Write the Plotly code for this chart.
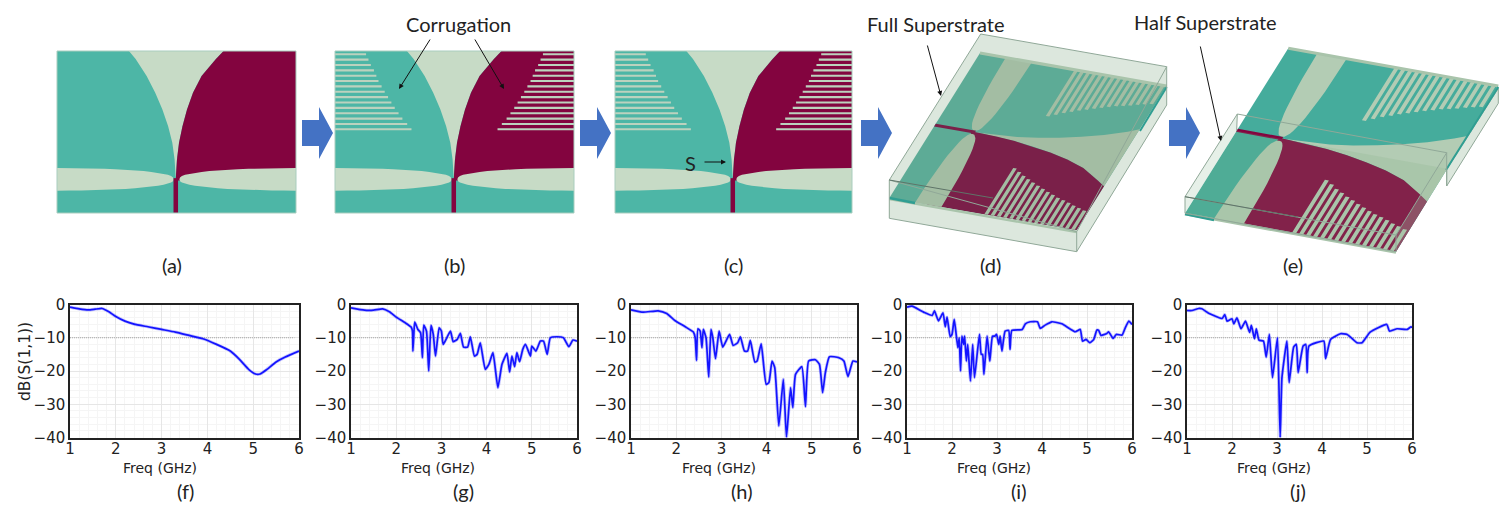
import math
import plotly.graph_objects as go

# ---------- S-parameter curves (f)-(j) ----------
f_freq = [1,1.2,1.4,1.55,1.7,1.85,2,2.2,2.4,2.7,3,3.3,3.6,3.9,4.2,4.5,4.7,4.9,5.05,5.15,5.3,5.5,5.7,6]
f_db = [-0.8,-1.3,-1.6,-1.4,-1.2,-2.2,-3.6,-5,-5.9,-6.7,-7.5,-8.3,-9.3,-10.3,-12,-14,-16.5,-19.5,-20.9,-20.9,-19.5,-17.3,-15.8,-14]

g_freq = [1,1.3,1.5,1.7,1.85,2,2.2,2.33,2.36,2.37,2.39,2.41,2.48,2.54,2.58,2.61,2.67,2.72,2.77,2.82,2.87,2.95,3.0,3.04,3.2,3.26,3.35,3.42,3.49,3.58,3.64,3.73,3.79,3.86,3.97,4.05,4.14,4.25,4.34,4.45,4.51,4.56,4.62,4.67,4.73,4.8,4.86,4.97,5.0,5.09,5.19,5.26,5.34,5.41,5.56,5.7,5.82,5.91,6]
g_db = [-1,-1.7,-1.7,-1.3,-2.2,-3.8,-5.5,-6.8,-8,-14,-9,-5.3,-7.5,-8.5,-16,-6.2,-8,-20,-6.3,-9,-15.5,-7,-8,-12,-8,-11.2,-10.5,-8.7,-12.8,-12.8,-9.7,-15.5,-15,-11.5,-19.5,-18,-14.5,-25,-18,-14.7,-20.3,-15.5,-18.7,-14.5,-17.2,-13.5,-12,-15.5,-12.5,-14,-11,-11,-15,-10,-9.7,-10,-12.7,-10.7,-11]

h_freq = [1,1.27,1.6,1.79,1.97,2.2,2.38,2.42,2.45,2.48,2.53,2.57,2.6,2.66,2.72,2.77,2.81,2.87,2.95,3.03,3.18,3.26,3.36,3.42,3.51,3.58,3.64,3.74,3.79,3.88,3.99,4.05,4.12,4.18,4.27,4.37,4.44,4.53,4.58,4.64,4.78,4.86,4.93,5.08,5.17,5.24,5.3,5.39,5.6,5.71,5.8,5.91,6]
h_db = [-1.6,-2.3,-1.9,-2.7,-4.8,-6.7,-8.3,-10,-16.8,-7.3,-8,-13,-7.5,-10,-21.8,-7.5,-10,-16.3,-8,-12.8,-9,-12.3,-11.5,-9.7,-14,-14,-10.8,-17.3,-17,-11.8,-24,-23.5,-17,-19,-36.5,-22.5,-40,-25,-31,-21,-18.7,-30.7,-17,-16.6,-18,-26.5,-20.5,-15.7,-16,-17,-21.7,-17,-17.3]

i_freq = [1,1.11,1.37,1.56,1.61,1.7,1.8,1.85,1.89,1.96,2.0,2.05,2.13,2.16,2.19,2.22,2.26,2.28,2.32,2.35,2.41,2.46,2.5,2.61,2.65,2.68,2.71,2.78,2.84,2.9,2.95,2.99,3.04,3.07,3.11,3.18,3.26,3.29,3.33,3.56,3.63,3.74,3.9,3.96,4.07,4.22,4.44,4.74,4.85,4.9,4.98,5.06,5.15,5.22,5.26,5.31,5.44,5.48,5.58,5.65,5.78,5.85,5.93,6]
i_db = [-0.8,-0.5,-2.3,-3.3,-1.9,-4.9,-2.5,-6.7,-3.8,-9.7,-9,-4.5,-13,-10,-20,-9.5,-12,-9.5,-17,-12,-23,-12,-22,-9,-15,-15,-21,-9.5,-17,-9.5,-9.5,-9,-12,-9.5,-14,-8,-7.8,-13.5,-7.8,-7.5,-5.8,-5.2,-5.2,-7.2,-6.2,-5.2,-5.8,-8.2,-7.5,-11,-10.5,-11.5,-10.5,-7.7,-7.8,-9.3,-8.7,-8.2,-10.2,-9,-9.2,-7,-5,-6]

j_freq = [1,1.11,1.26,1.33,1.48,1.78,1.84,1.89,2,2.04,2.11,2.2,2.3,2.39,2.43,2.5,2.54,2.6,2.7,2.76,2.83,2.9,3.01,3.07,3.11,3.22,3.27,3.37,3.43,3.47,3.58,3.64,3.67,3.71,4.04,4.08,4.19,4.41,4.56,4.78,4.89,5.07,5.44,5.5,5.67,5.89,5.98,6]
j_db = [-1.8,-1.8,-1.2,-1.3,-2.6,-4.2,-3,-5,-4.3,-5.8,-4,-7.3,-5,-8.4,-6.3,-10.3,-7.3,-10.7,-11,-15.8,-9,-22,-10,-40,-22,-11,-23.5,-12.8,-12,-20.5,-12.5,-12,-20.5,-12.5,-11,-16.3,-10.5,-8.8,-9,-11.5,-11.5,-8.3,-6,-8,-7.3,-7.5,-6.7,-7]

x_tick_labels = [1, 2, 3, 4, 5, 6]
y_tick_labels = [0, -10, -20, -30, -40]
threshold_x = [1, 5.9]
threshold_y = [-10, -10]

# ---------- antenna outline, in normalised (u, v) board units ----------
taper_v = [0,.05,.155,.258,.361,.464,.567,.67,.753,.785]
taper_left_hw = [.196,.168,.122,.086,.056,.032,.0145,.005,.0015,.0005]
taper_right_hw = [.2,.168,.108,.072,.047,.028,.0135,.005,.0015,.0005]
stripe_v = [.02+i*.0331 for i in range(15)]
stripe_len = [.13,.14,.15,.163,.173,.182,.195,.208,.222,.236,.25,.266,.282,.302,.32]

TEAL, MAROON, LIGHT = "#4DB6A6", "#83043F", "#C7DBC6"
fig = go.Figure()

def bil(c, u, v):
    (a, b, d, e) = c  # u0v0, u1v0, u0v1, u1v1
    x = (1-u)*(1-v)*a[0]+u*(1-v)*b[0]+(1-u)*v*d[0]+u*v*e[0]
    y = (1-u)*(1-v)*a[1]+u*(1-v)*b[1]+(1-u)*v*d[1]+u*v*e[1]
    return x, y

def polys(pl, color, line=None, width=0):
    xs, ys = [], []
    for p in pl:
        xs += [q[0] for q in p] + [p[0][0], None]
        ys += [q[1] for q in p] + [p[0][1], None]
    fig.add_trace(go.Scatter(x=xs, y=ys, mode="lines", fill="toself", fillcolor=color,
                             line=dict(color=line or color, width=width), hoverinfo="skip",
                             showlegend=False, xaxis="x6", yaxis="y6"))

def lines(pts, color, width=1, dash=None):
    fig.add_trace(go.Scatter(x=[p[0] for p in pts], y=[p[1] for p in pts], mode="lines",
                             line=dict(color=color, width=width, dash=dash), hoverinfo="skip",
                             showlegend=False, xaxis="x6", yaxis="y6"))

def antenna(c, teal, maroon, light, stripes, outline=None, stripe_hw=.0095, stripe_color=None):
    C = .497
    P = lambda u, v: bil(c, u, v)
    polys([[P(0,0),P(1,0),P(1,1),P(0,1)]], teal)
    left = [P(C-w, v) for w, v in zip(taper_left_hw, taper_v)]
    right = [P(C+w, v) for w, v in zip(taper_right_hw, taper_v)]
    polys([left + right[::-1]], light)
    polys([right + [P(C, .8), P(1, .8), P(1, 0)]], maroon)
    if stripes:
        s = []
        for v, L in zip(stripe_v, stripe_len):
            s.append([P(0, v-stripe_hw), P(L, v-stripe_hw), P(L, v+stripe_hw), P(0, v+stripe_hw)])
            s.append([P(1, v-stripe_hw), P(1-L, v-stripe_hw), P(1-L, v+stripe_hw), P(1, v+stripe_hw)])
        polys(s, stripe_color or light)
    def bulge(t):
        sn = math.sin(t)
        return .792 + .07*math.copysign(abs(sn)**.8, sn)
    angles = [math.radians(a) for a in range(-90, 91, 6)]
    cl = [[P(.488*math.cos(t), bulge(t)) for t in angles]]
    cr = [[P(1-.488*math.cos(t), bulge(t)) for t in angles]]
    polys(cl + cr, light)
    polys([[P(C-.0095,.785),P(C+.0095,.785),P(C+.0095,1),P(C-.0095,1)]], maroon)
    if outline:
        lines([P(0,0),P(1,0),P(1,1),P(0,1),P(0,0)], outline, 1)

def rect(x0, x1, y0=51, y1=213):
    return ((x0,y0),(x1,y0),(x0,y1),(x1,y1))

def block_arrow(x):
    polys([[(x,120),(x+17,120),(x+17,107),(x+31,133),(x+17,159),(x+17,146),(x,146)]], "#4472C4")

# (a)-(c)
antenna(rect(57,296), TEAL, MAROON, LIGHT, False, "#A9CDBE")
antenna(rect(335,574), TEAL, MAROON, LIGHT, True, "#A9CDBE", .0065, "#BCD2BE")
antenna(rect(615,852), TEAL, MAROON, LIGHT, True, "#A9CDBE", .0065, "#BCD2BE")
for x in (302, 580, 861, 1169):
    block_arrow(x)

# (d) full superstrate
BOX = "#90A898"
TBL, TBR, TFR, TFL = (980.7,34), (1166.7,66.7), (1076.7,231.7), (889.3,180)
BBR, BFR, BFL = (1166.7,105), (1076.7,251.7), (889.3,218.3)
polys([[TBL,TBR,BBR,BFR,BFL,TFL]], "#DCE7DD")
d_c = ((1166.7,86),(1076.7,230),(980,53),(889.3,198))
antenna(d_c, "#5DAB96", "#7A2049", "#A3BDA3", True)
lines([(980,53),(1166.7,86)], "#A9C4AB", 3)
lines([(889.3,199),(1076.7,232)], "#A9C4AB", 2.5)
lines([(889.3,198),(915,203)], "#2F9E92", 2.5)
lines([(1166.7,87),(1140,131)], "#2F9E92", 2)
lines([TBL,TBR,TFR,TFL,TBL], BOX, 1)
lines([TFL,BFL,BFR,BBR,TBR], BOX, 1)
lines([TFR,BFR], BOX, 1)
lines([(889.3,180),(993,198)], "#5F7468", 1)

# (e) half superstrate
polys([[(1498.3,88.3),(1498.3,103.3),(1446.7,186),(1446.7,169.3)]], "#DCE7DD", BOX, 1)
e_c = ((1498.3,86),(1396,251.7),(1288.3,48.3),(1185,213.3))
antenna(e_c, "#45AC9C", "#83043F", "#B3CCB4", True)
lines([(1288.3,48.3),(1498.3,86)], "#A9C4AB", 3)
lines([(1185,214),(1396,252.5)], "#A9C4AB", 2.5)
lines([(1185,214),(1214,220)], "#2F9E92", 2.5)
lines([(1498.3,87),(1446,170)], "#2F9E92", 2)
E_TBL, E_TBR, E_TFR, E_TFL = (1237.3,114), (1446.7,152.7), (1396,235), (1185,196.7)
polys([[bil(e_c,.5,1), bil(e_c,.5,0), bil(e_c,1,0), bil(e_c,1,1)]], "rgba(130,170,130,0.18)")
polys([[E_TBL, E_TFL, (1185,213.3), bil(e_c,.5,1)]], "rgba(210,228,214,0.55)")
polys([[E_TBR, E_TFR, (1396,251.7), bil(e_c,.5,0)]], "rgba(170,195,170,0.30)")
lines([E_TBL,E_TBR,E_TFR,E_TFL,E_TBL], BOX, 1)
lines([E_TFL,(1185,213.3),(1396,251.7),E_TFR], BOX, 1)
lines([E_TBR,(1446.7,186)], BOX, 1)
lines([E_TBL,bil(e_c,.5,1)], BOX, 1)
lines([E_TFL,(1298,217)], "#5F7468", 1)

# ---------- axes ----------
layout_axes = {}
panels = [
    (f_freq, f_db, 70, 299), (g_freq, g_db, 351, 577), (h_freq, h_db, 631, 857),
    (i_freq, i_db, 907, 1132), (j_freq, j_db, 1187, 1412),
]
PT, PB = 304.5, 437.5
for n, (fx, fy, x0, x1) in enumerate(panels, start=1):
    s = "" if n == 1 else str(n)
    fig.add_trace(go.Scatter(x=threshold_x, y=threshold_y, mode="lines",
                             line=dict(color="#a8a8a8", width=1, dash="1px,1px"),
                             hoverinfo="skip", showlegend=False, xaxis="x"+s, yaxis="y"+s))
    fig.add_trace(go.Scatter(x=fx, y=fy, mode="lines",
                             line=dict(color="rgba(60,60,255,0.30)", width=3.2, shape="spline", smoothing=0.45),
                             hoverinfo="skip", showlegend=False, xaxis="x"+s, yaxis="y"+s))
    fig.add_trace(go.Scatter(x=fx, y=fy, mode="lines",
                             line=dict(color="#1414FF", width=1.7, shape="spline", smoothing=0.45),
                             showlegend=False, xaxis="x"+s, yaxis="y"+s))
    layout_axes["xaxis"+s] = dict(domain=[x0/1512, x1/1512], anchor="y"+s, range=[1, 6], automargin=False,
        tickmode="array", tickvals=x_tick_labels, ticks="", showline=True, mirror=True,
        linecolor="#222", linewidth=1.5, gridcolor="#e6e6e6", gridwidth=1, zeroline=False, ticklabelstandoff=-3,
        minor=dict(dtick=0.2, showgrid=True, gridcolor="#f5f5f5", gridwidth=1),
        tickfont=dict(family="DejaVu Sans", size=15, color="#222"))
    layout_axes["yaxis"+s] = dict(domain=[1-PB/520, 1-PT/520], anchor="x"+s, range=[-40, 0], automargin=False,
        tickmode="array", tickvals=y_tick_labels, ticks="", showline=True, mirror=True,
        linecolor="#222", linewidth=1.5, gridcolor="#e6e6e6", gridwidth=1, zeroline=False,
        minor=dict(dtick=2, showgrid=True, gridcolor="#f5f5f5", gridwidth=1),
        tickfont=dict(family="DejaVu Sans", size=15, color="#222"))

layout_axes["xaxis6"] = dict(domain=[0,1], range=[0,1512], visible=False, anchor="y6", fixedrange=True, automargin=False)
layout_axes["yaxis6"] = dict(domain=[0,1], range=[520,0], visible=False, anchor="x6", fixedrange=True, automargin=False)

FONT = "Lato"
texts = [("(a)",172,265),("(b)",454,265),("(c)",733,265),("(d)",990,265),("(e)",1293,265),
         ("(f)",185,491),("(g)",463,491),("(h)",742,491),("(i)",1018,491),("(j)",1298,491),
         ("Corrugation",458,24),("Full Superstrate",936,24),("Half Superstrate",1205,22),("S",690,163)]
ann = [dict(text=t, x=x, y=y, xref="x6", yref="y6", showarrow=False,
            font=dict(family=FONT, size=20, color="#222")) for t, x, y in texts]
for x in (160, 438, 719, 994, 1274):
    ann.append(dict(text="Freq (GHz)", x=x, y=468, xref="x6", yref="y6", showarrow=False,
                    font=dict(family="DejaVu Sans", size=14, color="#222")))
ann.append(dict(text="dB(S(1,1))", x=25, y=362, xref="x6", yref="y6", showarrow=False, textangle=-90,
                font=dict(family="DejaVu Sans", size=15.5, color="#222")))
for (x0,y0,x1,y1) in [(431,38,399,89),(474,38,504,89),(927,44,941,96),(1200,45,1221,141),(703,162,726,162)]:
    ann.append(dict(text="", x=x1, y=y1, ax=x0, ay=y0, xref="x6", yref="y6", axref="x6", ayref="y6",
                    showarrow=True, arrowhead=2, arrowsize=1, arrowwidth=1, arrowcolor="#111"))

fig.update_layout(width=1512, height=520, margin=dict(l=0,r=0,t=0,b=0,autoexpand=False), paper_bgcolor="white",
                  plot_bgcolor="rgba(0,0,0,0)", showlegend=False, annotations=ann, **layout_axes)
fig.write_html("out.html", post_script="document.body.style.margin='0';", config=dict(displayModeBar=False))
